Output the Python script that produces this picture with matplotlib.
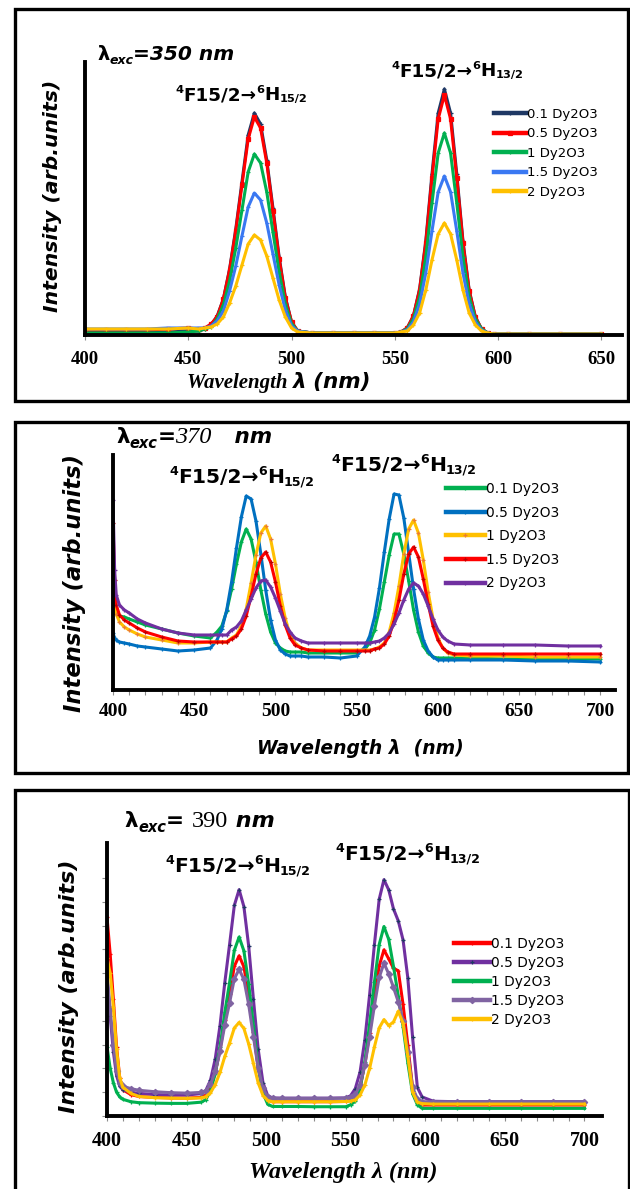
import matplotlib

matplotlib.use("Agg")
import matplotlib.pyplot as plt  # noqa: E402
from matplotlib.patches import Rectangle  # noqa: E402

W, H = 630, 1189

LABELS = ["0.1 Dy2O3", "0.5 Dy2O3", "1 Dy2O3", "1.5 Dy2O3", "2 Dy2O3"]

# --- excitation 350 nm ---------------------------------------------------
wl_350 = [400, 410, 420, 430, 440, 450, 455,
          458, 461, 464, 467, 470, 473, 476, 479, 482, 485, 488, 491, 494, 497, 500, 503,
          510, 520, 530, 540, 550,
          553, 556, 559, 562, 565, 568, 571, 574, 577, 580, 583, 586, 589, 592, 595, 598,
          605, 615, 630, 650]
i350_01 = [3, 3, 3, 3, 3, 4, 4,
           6, 10, 19, 36, 66, 106, 153, 200, 222, 211, 175, 127, 78, 38, 13, 4,
           2, 2, 2, 2, 2,
           3, 7, 19, 46, 94, 161, 222, 246, 222, 161, 94, 45, 18, 6, 2, 1,
           1, 1, 1, 1]
i350_05 = [5, 5, 5, 5, 6, 7, 6,
           7, 11, 18, 36, 65, 104, 150, 196, 218, 207, 172, 124, 76, 37, 13, 4,
           2, 2, 2, 2, 2,
           3, 7, 19, 45, 92, 157, 216, 240, 216, 157, 92, 44, 18, 6, 2, 1,
           1, 1, 1, 1]
i350_1 = [2, 2, 2, 2, 2, 3, 4,
          6, 8, 16, 30, 54, 87, 125, 163, 181, 172, 143, 103, 63, 31, 11, 4,
          2, 2, 2, 2, 2,
          3, 6, 16, 38, 78, 132, 182, 202, 182, 132, 78, 38, 16, 6, 2, 1,
          1, 1, 1, 1]
i350_15 = [6, 6, 6, 6, 7, 7, 7,
           7, 9, 14, 24, 44, 69, 99, 128, 142, 135, 112, 81, 50, 25, 9, 4,
           2, 2, 2, 2, 2,
           3, 5, 13, 31, 62, 104, 143, 159, 143, 104, 62, 31, 13, 5, 2, 1,
           1, 1, 1, 1]
i350_2 = [6, 6, 6, 6, 6, 7, 6,
          7, 8, 11, 18, 32, 49, 70, 91, 100, 95, 79, 57, 35, 18, 7, 3,
          2, 2, 2, 2, 2,
          3, 4, 10, 22, 45, 75, 101, 112, 101, 75, 45, 22, 10, 4, 2, 1,
          1, 1, 1, 1]

# --- excitation 370 nm ---------------------------------------------------
wl_370 = [400, 401, 402, 404, 407, 410, 415, 420, 430, 440, 450, 460,
          464, 467, 470, 473, 476, 479, 482, 485, 488, 491, 494, 497, 500, 503, 506, 509, 512,
          516, 520, 530, 540, 550,
          555, 558, 561, 564, 567, 570, 573, 576, 579, 582, 585, 588, 591, 594, 597, 600, 603, 606,
          610, 620, 640, 660, 680, 700]
i370_01 = [87, 80, 76, 74, 73, 71, 68, 65, 61, 57, 54, 52,
           58, 64, 79, 101, 126, 148, 161, 151, 128, 100, 76, 58, 47, 42, 39, 38, 38,
           38, 37, 37, 37, 37,
           41, 47, 60, 81, 108, 135, 156, 156, 136, 109, 80, 58, 44, 37, 33, 32, 32, 32,
           32, 32, 31, 31, 31, 31]
i370_05 = [57, 52, 50, 48, 47, 46, 44, 43, 41, 39, 40, 42,
           50, 61, 80, 108, 142, 173, 194, 191, 169, 136, 100, 70, 50, 40, 36, 34, 34,
           34, 33, 33, 32, 34,
           43, 54, 73, 102, 138, 171, 196, 195, 172, 137, 101, 71, 50, 39, 33, 30, 30, 30,
           30, 30, 30, 29, 29, 28]
i370_1 = [113, 88, 76, 68, 63, 60, 56, 53, 50, 47, 47, 48,
          48, 48, 48, 52, 55, 64, 81, 107, 135, 157, 164, 151, 126, 96, 72, 55, 47,
          42, 40, 40, 40, 40,
          40, 40, 41, 43, 47, 58, 77, 104, 136, 161, 170, 157, 130, 98, 71, 52, 42, 37,
          35, 34, 34, 33, 33, 33]
i370_15 = [167, 110, 85, 75, 70, 67, 62, 58, 53, 49, 48, 48,
           48, 48, 48, 51, 54, 61, 74, 94, 116, 132, 138, 128, 108, 84, 65, 52, 45,
           42, 40, 39, 39, 39,
           39, 39, 41, 42, 46, 54, 69, 90, 116, 136, 143, 133, 111, 86, 64, 50, 42, 38,
           36, 36, 36, 36, 36, 36]
i370_2 = [190, 120, 95, 85, 80, 77, 71, 67, 61, 57, 55, 55,
          55, 55, 55, 60, 63, 69, 80, 91, 102, 109, 110, 103, 92, 79, 66, 58, 52,
          49, 47, 47, 47, 47,
          47, 47, 48, 49, 52, 57, 66, 77, 90, 101, 107, 104, 96, 84, 71, 60, 53, 49,
          46, 45, 45, 45, 44, 44]

# --- excitation 390 nm ---------------------------------------------------
wl_390 = [400, 402, 404, 406, 408, 410, 415, 420, 430, 440, 450,
          459, 462, 465, 468, 471, 474, 477, 480, 483, 486, 489, 492, 495, 498, 501, 504,
          510, 520, 530, 540, 550,
          553, 556, 559, 562, 565, 568, 571, 574, 577, 580, 583, 586, 589, 592, 595, 598,
          605, 620, 640, 660, 680, 700]
i390_01 = [836, 680, 490, 290, 160, 110, 90, 82, 78, 76, 75,
           78, 87, 118, 182, 278, 404, 512, 629, 673, 627, 508, 355, 203, 107, 68, 60,
           60, 60, 60, 60, 61,
           66, 78, 122, 217, 350, 497, 630, 698, 660, 621, 610, 469, 298, 117, 59, 46,
           46, 46, 46, 46, 46, 46]
i390_05 = [584, 420, 270, 170, 125, 110, 100, 95, 90, 88, 88,
           94, 106, 150, 240, 380, 560, 720, 885, 951, 880, 715, 490, 280, 140, 85, 76,
           75, 75, 75, 75, 76,
           85, 115, 185, 320, 510, 720, 910, 993, 950, 870, 820, 740, 580, 330, 120, 80,
           62, 60, 60, 60, 60, 60]
i390_1 = [292, 200, 140, 100, 80, 70, 60, 56, 54, 53, 53,
          58, 68, 105, 178, 289, 435, 560, 696, 752, 694, 556, 380, 204, 95, 49, 40,
          40, 40, 39, 39, 39,
          47, 62, 114, 228, 387, 561, 720, 796, 742, 628, 505, 376, 223, 94, 47, 32,
          32, 32, 32, 32, 32, 32]
i390_15 = [600, 450, 300, 190, 140, 125, 115, 108, 102, 98, 96,
           99, 106, 133, 187, 271, 382, 475, 577, 616, 574, 469, 334, 200, 116, 81, 74,
           74, 74, 74, 74, 75,
           80, 91, 130, 215, 333, 463, 582, 642, 597, 540, 480, 400, 270, 120, 72, 60,
           60, 60, 60, 60, 60, 60]
i390_2 = [663, 600, 460, 280, 160, 120, 95, 82, 77, 75, 74,
          76, 81, 97, 132, 183, 250, 307, 370, 393, 368, 303, 221, 139, 86, 65, 60,
          60, 60, 60, 60, 61,
          62, 68, 88, 130, 200, 290, 370, 405, 380, 395, 440, 390, 250, 100, 58, 52,
          50, 50, 50, 50, 50, 50]

SANS = ["DejaVu Sans"]
SERIF = ["Liberation Serif", "DejaVu Serif"]
TICK_GREY = "#8c8c8c"

# tick labels pick these up; every other text names its own font
plt.rcParams["font.family"] = SERIF
plt.rcParams["font.weight"] = "bold"


def fx(x):
    return x / W


def fy(y):
    return 1 - y / H


def rich(fig, x, y, parts):
    """Write text pieces one after another on a shared baseline (pixel coords)."""
    r = fig.canvas.get_renderer()
    for s, size, dy, fam, weight, style in parts:
        t = fig.text(fx(x), fy(y - dy), s, fontsize=size, family=fam,
                     weight=weight, style=style, ha="left", va="baseline")
        x += t.get_window_extent(r).width


def transition(fig, x, y, size, lower):
    px = size * 100 / 72
    sm = size * 0.62
    rich(fig, x, y, [
        ("4", sm, 0.40 * px, SANS, "bold", "normal"),
        ("F15/2→", size, 0, SANS, "bold", "normal"),
        ("6", sm, 0.40 * px, SANS, "bold", "normal"),
        ("H", size, 0, SANS, "bold", "normal"),
        (lower, sm, -0.12 * px, SANS, "bold", "normal"),
    ])


def ylabel(fig, x, y, size):
    fig.text(fx(x), fy(y), "Intensity (arb.units)", rotation=90, ha="center",
             va="center", fontsize=size, family=SANS, weight="bold", style="italic")


def panel(fig, box, axpx, wl, series, colors, mcolors, markers, xlim, ylim,
          xmajor, xminor, tick_size, tick_pad, leg):
    l, t, r, b = box
    fig.patches.append(Rectangle((fx(l), fy(b)), fx(r - l), (b - t) / H, fill=False,
                                 lw=2.4, ec="black", transform=fig.transFigure, zorder=0))
    al, at, ar, ab = axpx
    ax = fig.add_axes([fx(al), fy(ab), fx(ar - al), (ab - at) / H])
    handles = []
    for vals, c, mc, m in zip(series, colors, mcolors, markers):
        h, = ax.plot(wl, vals, color=c, lw=2.2, marker=m, ms=3.2, mec=mc, mfc=mc, mew=0.9)
        handles.append(h)
    ax.set_xlim(*xlim)
    ax.set_ylim(*ylim)
    for s in ("top", "right"):
        ax.spines[s].set_visible(False)
    for s in ("left", "bottom"):
        ax.spines[s].set_linewidth(2.8)
    ax.set_xticks(xmajor)
    if xminor:
        ax.set_xticks(xminor, minor=True)
    ax.tick_params(axis="x", which="both", direction="out", length=3.5, width=0.8,
                   color=TICK_GREY, pad=tick_pad, labelsize=tick_size)
    ax.set_yticks([])
    ax.patch.set_alpha(0)

    lx, ly, lsize, hlen, lspace = leg
    lg = ax.legend(handles, LABELS, loc="upper left", bbox_to_anchor=(fx(lx), fy(ly)),
                   bbox_transform=fig.transFigure, frameon=False, borderpad=0,
                   borderaxespad=0, handlelength=hlen, handletextpad=0.1,
                   labelspacing=lspace,
                   prop={"family": SANS, "size": lsize, "weight": "normal"})
    for ln in lg.get_lines():
        ln.set_linewidth(3.2)
    return ax


def main() -> None:
    fig = plt.figure(figsize=(W / 100, H / 100), dpi=100)
    fig.patch.set_facecolor("white")

    # panel 1: 350 nm
    panel(fig, (15, 9, 627.5, 401.5), (85, 62, 622, 335), wl_350,
          [i350_01, i350_05, i350_1, i350_15, i350_2],
          ["#1F3864", "#FF0000", "#00B050", "#3A78F2", "#FFC000"],
          ["#1F3864", "#FF0000", "#00B050", "#3A78F2", "#FFC000"],
          ["+", "s", "+", "_", "+"],
          (400, 660), (0, 273), list(range(400, 651, 50)), None, 13.5, 8,
          (494, 108, 9.5, 2.4, 0.49))
    rich(fig, 97, 60, [("λ", 14, 0, SANS, "bold", "normal"),
                       ("exc", 9, -4, SANS, "bold", "italic"),
                       ("=350 nm", 14.5, 0, SANS, "bold", "italic")])
    transition(fig, 175, 100, 13.2, "15/2")
    transition(fig, 391, 76, 13.2, "13/2")
    rich(fig, 187, 388, [("Wavelength ", 15, 0, SERIF, "bold", "italic"),
                         ("λ (nm)", 15.5, 0, SANS, "bold", "italic")])
    ylabel(fig, 53, 196, 14.7)

    # panel 2: 370 nm
    panel(fig, (15, 421.5, 627.5, 772.5), (113, 455, 615, 690), wl_370,
          [i370_01, i370_05, i370_1, i370_15, i370_2],
          ["#00B050", "#0070C0", "#FFC000", "#FF0000", "#7030A0"],
          ["#00B050", "#0070C0", "#ED7D31", "#C00000", "#7030A0"],
          ["+", "+", "+", "+", "+"],
          (400, 709), (0, 235), list(range(400, 701, 50)), list(range(400, 701, 10)),
          14, 6, (446, 482, 9.9, 2.8, 0.7))
    rich(fig, 116, 443, [("λ", 15.5, 0, SANS, "bold", "normal"),
                         ("exc", 10.5, -5, SANS, "bold", "italic"),
                         ("=", 15.5, 0, SANS, "bold", "italic"),
                         ("370", 17.5, 0, SERIF, "normal", "italic"),
                         ("   nm", 15.5, 0, SANS, "bold", "italic")])
    transition(fig, 169, 483, 14.6, "15/2")
    transition(fig, 331, 471, 14.6, "13/2")
    rich(fig, 257, 754, [("Wavelength λ  (nm)", 13.5, 0, SANS, "bold", "italic")])
    ylabel(fig, 75, 583, 16.3)

    # panel 3: 390 nm
    ax3 = panel(fig, (15, 789.5, 629, 1195), (107, 843, 602, 1116), wl_390,
                [i390_01, i390_05, i390_1, i390_15, i390_2],
                ["#FF0000", "#7030A0", "#00B050", "#8064A2", "#FFC000"],
                ["#FF0000", "#1F3864", "#00B050", "#8064A2", "#FFC000"],
                ["+", "+", "+", "D", "+"],
                (400, 711), (0, 1147), list(range(400, 701, 50)), list(range(400, 701, 10)),
                14.5, 7, (454, 937, 9.9, 2.6, 0.36))
    ax3.set_yticks(range(0, 1001, 100))
    ax3.set_yticklabels([])
    ax3.tick_params(axis="y", direction="out", length=3.5, width=0.8, color=TICK_GREY)
    rich(fig, 124.5, 827, [("λ", 15.5, 0, SANS, "bold", "normal"),
                           ("exc", 10.5, -5, SANS, "bold", "italic"),
                           ("= ", 15.5, 0, SANS, "bold", "normal"),
                           ("390", 17.5, 0, SERIF, "normal", "normal"),
                           (" nm", 16, 0, SANS, "bold", "italic")])
    transition(fig, 165, 872, 14.6, "15/2")
    transition(fig, 335, 860, 14.6, "13/2")
    rich(fig, 249, 1178, [("Wavelength λ (nm)", 17.5, 0, SERIF, "bold", "italic")])
    ylabel(fig, 69, 986, 16)

    fig.savefig("out.png", dpi=100)
    plt.close(fig)


if __name__ == "__main__":
    main()
